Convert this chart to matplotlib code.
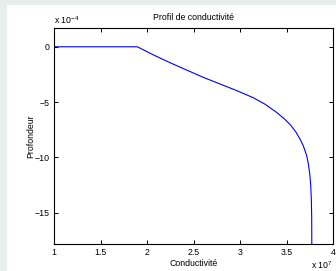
import matplotlib
matplotlib.use("Agg")
import matplotlib.pyplot as plt
from matplotlib.patches import Rectangle

plt.rcParams['font.family'] = ['Liberation Sans', 'DejaVu Sans']
plt.rcParams['mathtext.fontset'] = 'custom'
plt.rcParams['mathtext.rm'] = 'Liberation Sans'

# conductivity (x 1e7) and depth (x 1e-4)
conductivite = [1.0, 1.896, 2.07, 2.25, 2.43, 2.6, 2.78, 2.96, 3.14, 3.27, 3.4,
                3.48, 3.54, 3.6, 3.645, 3.68, 3.717, 3.735, 3.75, 3.76, 3.767,
                3.771, 3.772]
profondeur = [0, 0, -0.74, -1.45, -2.12, -2.75, -3.35, -3.95, -4.6, -5.2, -5.98,
              -6.55, -7.05, -7.7, -8.35, -8.95, -9.85, -10.6, -11.5, -12.5, -13.8,
              -15.5, -17.9]
xticks = [1, 1.5, 2, 2.5, 3, 3.5, 4]
yticks = [0, -5, -10, -15]

W, H = 336, 271
fs = 6.3
fig = plt.figure(figsize=(W / 100, H / 100), dpi=100)
fig.patch.set_facecolor('#e7eeeb')
fig.add_artist(Rectangle((7 / W, 0), 1, (H - 5) / H, transform=fig.transFigure,
                         facecolor='white', edgecolor='none', zorder=-10))

ax = fig.add_axes([54 / W, (H - 244) / H, 279 / W, 216 / H])
ax.plot(conductivite, profondeur, color='#0000ff', lw=0.8)
ax.set_xlim(1, 4)
ax.set_ylim(-17.85, 1.7)
ax.set_xticks(xticks)
ax.set_xticklabels([f"{t:g}" for t in xticks])
ax.set_yticks(yticks)
ax.set_yticklabels([f"{t:g}".replace('-', '\u2212') for t in yticks])
ax.tick_params(direction='in', length=3, width=0.7, labelsize=fs, pad=3,
               top=True, right=True)
for s in ax.spines.values():
    s.set_linewidth(0.8)

ax.set_title("Profil de conductivité", fontsize=fs, pad=6)
ax.set_xlabel("Conductivité", fontsize=fs, labelpad=1)
ax.set_ylabel("Profondeur", fontsize=fs, labelpad=0)

fig.text(54 / W, 1 - 20 / H, r"x 10$^{-4}$", fontsize=fs, va='center', ha='left')
fig.text(333 / W, 1 - 265 / H, r"x 10$^{7}$", fontsize=fs, va='center', ha='right')

fig.savefig("out.png", dpi=100, facecolor=fig.get_facecolor())
